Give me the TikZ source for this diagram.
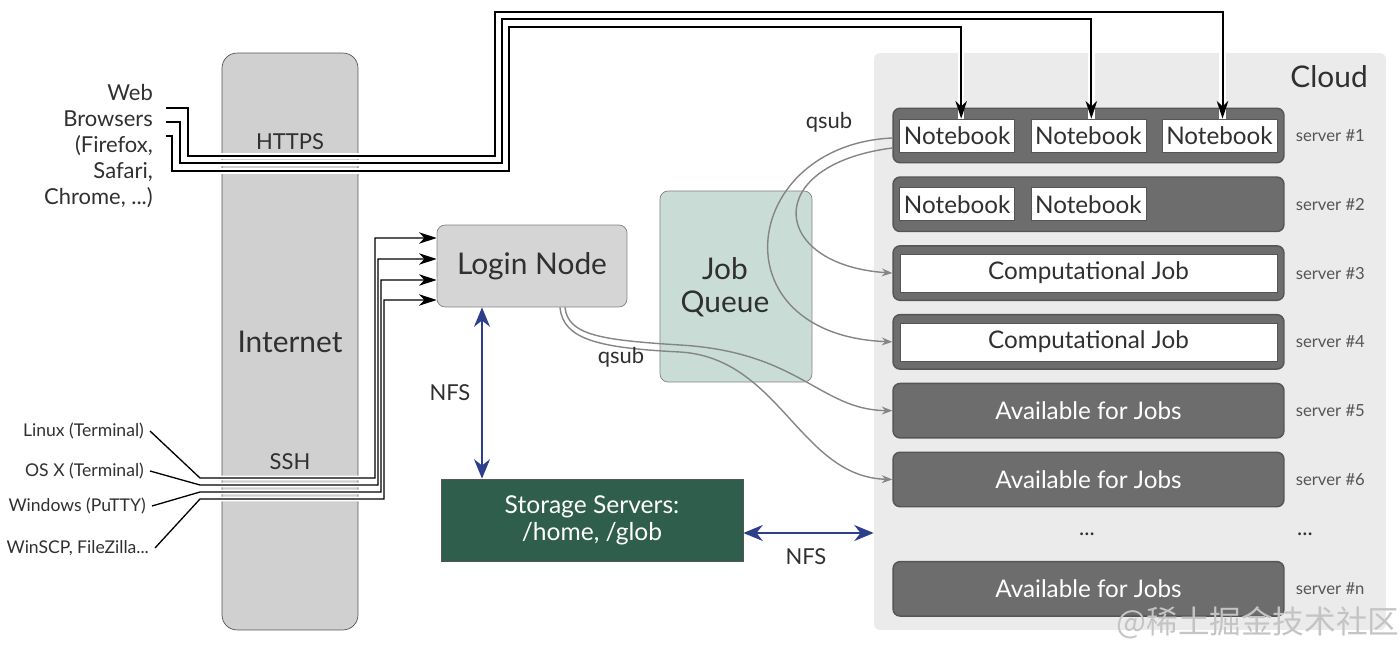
\documentclass[tikz,border=0pt]{standalone}
\usepackage{fontspec}
\setmainfont{Lato}
\newfontfamily\cjk{Noto Sans CJK SC}
\usetikzlibrary{arrows.meta,positioning}

\definecolor{ink}{HTML}{303030}
\definecolor{netgray}{HTML}{D0D0D0}
\definecolor{logingray}{HTML}{D5D5D5}
\definecolor{queuegreen}{HTML}{C9DDD6}
\definecolor{cloudgray}{HTML}{EBEBEB}
\definecolor{srvgray}{HTML}{6D6D6D}
\definecolor{edgegray}{HTML}{555555}
\definecolor{storegreen}{HTML}{2F5F4C}
\definecolor{nfsblue}{HTML}{2D3F8A}
\definecolor{qgray}{HTML}{858585}
\definecolor{markgray}{HTML}{C4C4C4}

\begin{document}
\begin{tikzpicture}[
  x=0.02cm, y=-0.02cm,
  node distance=0.258cm and 0.31cm,
  bigtxt/.style={font=\fontsize{17}{19}\selectfont, text=ink, align=center},
  midtxt/.style={font=\fontsize{12.5}{14.7}\selectfont, text=ink},
  clienttxt/.style={font=\fontsize{10}{12}\selectfont, text=ink, anchor=east},
  srvtxt/.style={font=\fontsize{9.5}{11}\selectfont, text=edgegray, right=0.1cm of #1},
  panel/.style={draw=edgegray, fill=netgray, rounded corners=0.3cm, minimum width=2.72cm, minimum height=11.54cm, bigtxt},
  cloudbox/.style={fill=cloudgray, rounded corners=0.12cm, minimum width=10.24cm, minimum height=11.54cm},
  loginbox/.style={draw=gray, fill=logingray, rounded corners=0.16cm, minimum width=3.8cm, minimum height=1.64cm, bigtxt},
  queuebox/.style={draw=gray, fill=queuegreen, rounded corners=0.16cm, minimum width=3.04cm, minimum height=3.82cm},
  storebox/.style={draw=edgegray, fill=storegreen, minimum width=6.04cm, minimum height=1.64cm, align=center, text=white, font=\fontsize{14}{15.5}\selectfont},
  srv/.style={draw=edgegray, fill=srvgray, line width=0.8pt, rounded corners=0.14cm, minimum width=7.82cm, minimum height=1.09cm},
  avail/.style={srv, text=white, font=\fontsize{13.8}{16}\selectfont},
  nbook/.style={draw=edgegray, fill=white, inner sep=0pt, minimum width=2.3cm, minimum height=0.66cm, text=ink, font=\fontsize{13.8}{16}\selectfont},
  jobbox/.style={nbook, minimum width=7.54cm, minimum height=0.76cm},
  wire/.style={draw=black, line width=1.1pt, preaction={draw=white, line width=3.6pt, -}},
  halo/.style={draw=white, line width=2.8pt},
  sshwire/.style={draw=black, line width=0.75pt},
  blackarrow/.style={-{Stealth[length=10pt, width=6.5pt, inset=3pt]}},
  qarrow/.style={draw=qgray, line width=0.8pt, -{Stealth[length=6pt, width=4.5pt, inset=2pt]}},
  nfs/.style={draw=nfsblue, line width=1.7pt, {Stealth[length=11pt, width=9pt, inset=3.5pt]}-{Stealth[length=11pt, width=9pt, inset=3.5pt]}}
]
\useasboundingbox (0,0) rectangle (1400,658);

% internet column and cloud
\node[panel] (net) at (290,341.5) {Internet};
\node[midtxt] (https) at (290,142) {HTTPS};
\node[midtxt] (ssh) at (290,462) {SSH};
\node[cloudbox] (cloud) at (1130,341.5) {};
\node[bigtxt, anchor=east] (cloudtxt) at (1374,77) {Cloud};

% clients
\node[midtxt, anchor=east, align=right] (web) at (159,146) {Web\\Browsers\\(Firefox,\\Safari,\\Chrome, ...)};
\node[clienttxt] (linux) at (150,431) {Linux (Terminal)};
\node[clienttxt] (osx) at (150,471) {OS X (Terminal)};
\node[clienttxt] (win) at (152,506) {Windows (PuTTY)};
\node[clienttxt] (scp) at (155,548) {WinSCP, FileZilla...};

% cluster side
\node[loginbox] (login) at (532,266) {Login Node};
\node[queuebox] (queue) at (736,286.5) {};
\node[bigtxt] (queuetxt) at (725,287) {Job\\Queue};
\node[storebox] (store) at (592,520) {Storage Servers:\\/home, /glob};

\node[srv] (s1) at (1088.5,135.5) {};
\node[srv, below=of s1] (s2) {};
\node[srv, below=of s2] (s3) {};
\node[srv, below=of s3] (s4) {};
\node[avail, below=of s4] (s5) {Available for Jobs};
\node[avail, below=of s5] (s6) {Available for Jobs};
\node[avail, below=1.07cm of s6] (sn) {Available for Jobs};

\node[nbook, anchor=west] (nb11) at ([xshift=0.14cm]s1.west) {Notebook};
\node[nbook, right=of nb11] (nb12) {Notebook};
\node[nbook, right=of nb12] (nb13) {Notebook};
\node[nbook, anchor=west] (nb21) at ([xshift=0.14cm]s2.west) {Notebook};
\node[nbook, right=of nb21] (nb22) {Notebook};
\node[jobbox] (j3) at (s3) {Computational Job};
\node[jobbox] (j4) at (s4) {Computational Job};

\node[srvtxt=s1] (l1) {server \#1};
\node[srvtxt=s2] (l2) {server \#2};
\node[srvtxt=s3] (l3) {server \#3};
\node[srvtxt=s4] (l4) {server \#4};
\node[srvtxt=s5] (l5) {server \#5};
\node[srvtxt=s6] (l6) {server \#6};
\node[srvtxt=sn] (ln) {server \#n};
\node[midtxt] (dots1) at (1087,534) {...};
\node[midtxt] (dots2) at (1305,534) {...};

% https to the notebooks
\coordinate (b1) at (166,108);
\coordinate (b2) at (166,122);
\coordinate (b3) at (166,136);
\draw[wire, blackarrow] (b1) -| (188,156) -| (495,12) -| ([xshift=0.06cm]nb13.north);
\draw[wire, blackarrow] (b2) -| (180,163) -| (502,19) -| ([xshift=0.06cm]nb12.north);
\draw[wire, blackarrow] (b3) -| (172,171) -| (509,27) -| ([xshift=0.08cm]nb11.north);

% ssh to the login node
\foreach \src/\ya/\xa/\dy in {linux/478/375/0.56, osx/485/378/0.14, win/492/381/-0.28, scp/499/384/-0.68}
  \draw[halo] (\src.east) -- (200,\ya) -- (\xa,\ya) |- ([yshift=\dy cm]login.west);
\foreach \src/\ya/\xa/\dy in {linux/478/375/0.56, osx/485/378/0.14, win/492/381/-0.28, scp/499/384/-0.68}
  \draw[sshwire, blackarrow] (\src.east) -- (200,\ya) -- (\xa,\ya) |- ([yshift=\dy cm]login.west);

% nfs
\coordinate (nfsx) at (482,0);
\coordinate (nfsa) at ([yshift=-0.26cm]store.east);
\draw[nfs] (login.south -| nfsx) -- (store.north -| nfsx);
\draw[nfs] (nfsa) -- (nfsa -| cloud.west);
\node[midtxt] (nfs1) at (450,393) {NFS};
\node[midtxt] (nfs2) at (806,557) {NFS};

% qsub
\draw[qarrow] ([yshift=-0.25cm]s1.west) .. controls (760,165) and (770,265) .. (s3.west);
\draw[qarrow] ([yshift=-0.05cm]s1.west) .. controls (740,145) and (715,335) .. (s4.west);
\draw[qarrow] ([xshift=0.66cm]login.south) .. controls (568,335) and (600,340) .. (680,345) .. controls (800,352) and (820,410) .. (s5.west);
\draw[qarrow] ([xshift=0.56cm]login.south) .. controls (563,340) and (600,348) .. (680,352) .. controls (780,358) and (800,477) .. (s6.west);
\node[midtxt] (qsub1) at (829,122) {qsub};
\node[midtxt] (qsub2) at (621,357) {qsub};

\node[text=markgray, font=\cjk\fontsize{18}{20}\selectfont] (mark) at (1258,623) {@稀土掘金技术社区};
\end{tikzpicture}
\end{document}
